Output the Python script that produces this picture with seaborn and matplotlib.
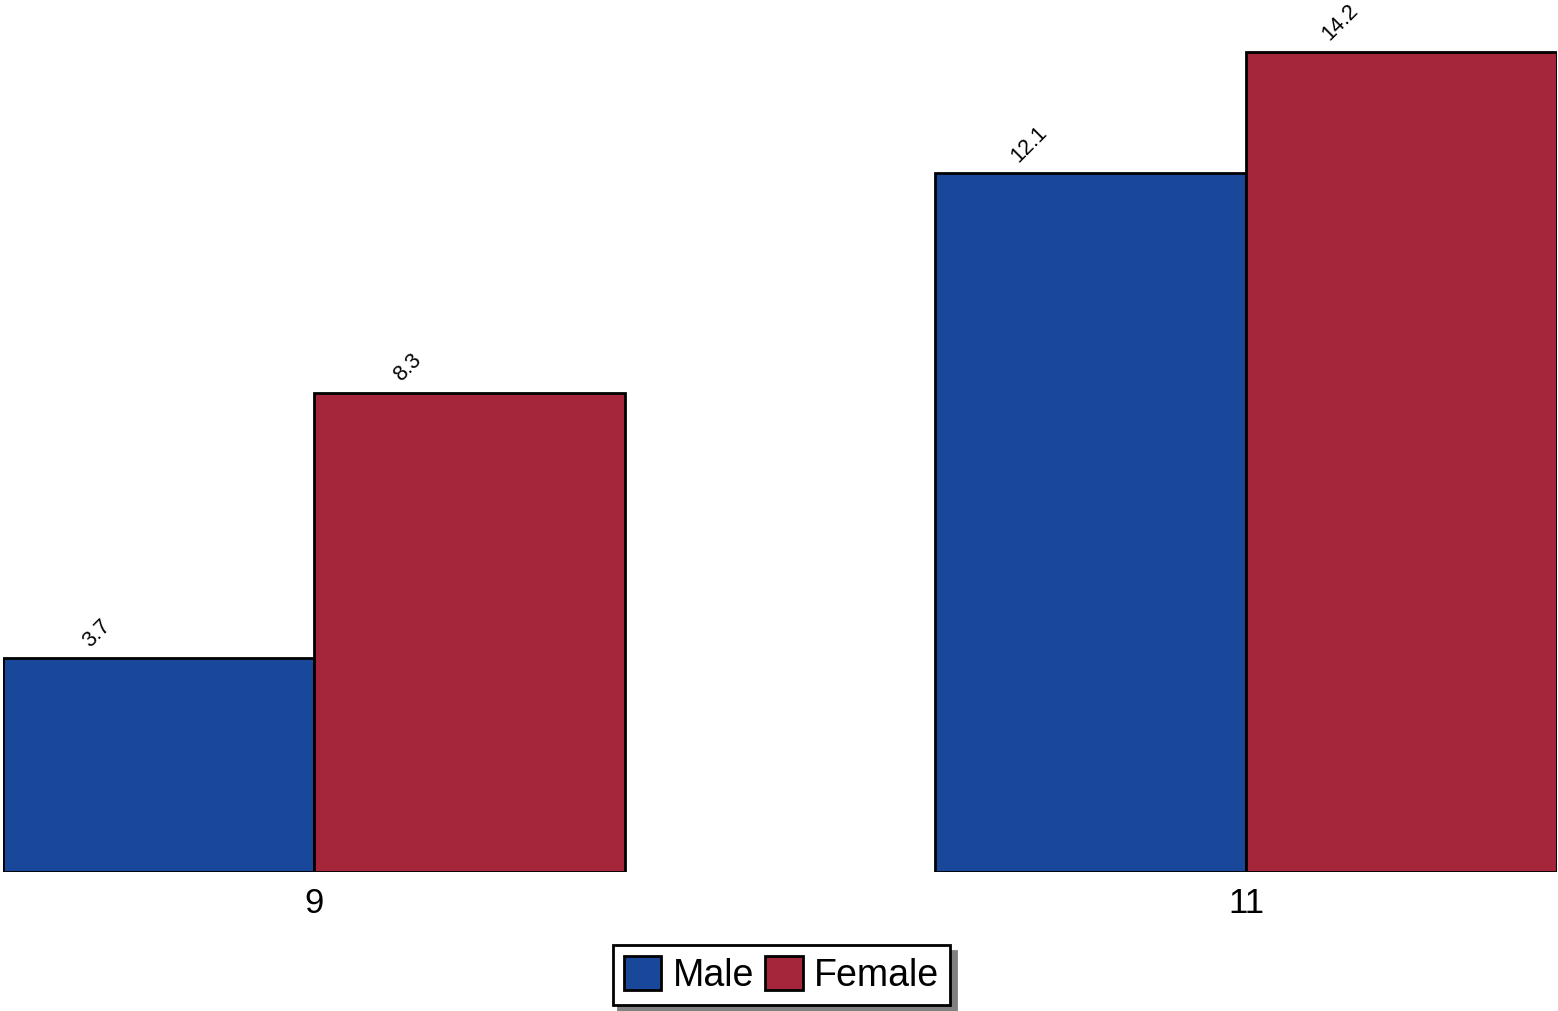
import pandas as pd
import seaborn as sns
import matplotlib.pyplot as plt
from matplotlib.patches import Patch

# data
groups = ['9', '11']
male = [3.7, 12.1]
female = [8.3, 14.2]
sexes = ['Male', 'Female']
colors = ['#19479a', '#a5263b']

df = pd.DataFrame({
    'group': groups * 2,
    'sex': ['Male'] * len(groups) + ['Female'] * len(groups),
    'value': male + female,
})

sns.set_style('white')
plt.rcParams['font.family'] = ['Liberation Sans', 'DejaVu Sans']
plt.rcParams['text.color'] = 'black'
plt.rcParams['xtick.color'] = 'black'

fig = plt.figure(figsize=(15.58, 10.11), dpi=100)
ax = fig.add_axes([3 / 1558, 139 / 1011, 1554 / 1558, 872 / 1011])

sns.barplot(data=df, x='group', y='value', hue='sex', order=groups,
            hue_order=sexes, palette=colors, width=2 / 3, saturation=1,
            edgecolor='black', linewidth=2, legend=False, ax=ax)

# value labels, rotated
for cont in ax.containers:
    for bar in cont:
        h = bar.get_height()
        ax.annotate(f'{h:.1f}', xy=(bar.get_x() + bar.get_width() / 2, h),
                    xytext=(-44, 5), textcoords='offset points',
                    ha='center', va='bottom', rotation=45, fontsize=15.5,
                    color='black')

ax.set_xlim(-1 / 3, 1 + 1 / 3)
ax.set_ylim(0, 872 / 57.75)
ax.set_xlabel('')
ax.set_ylabel('')
ax.set_yticks([])
ax.tick_params(axis='x', length=0, pad=11, labelsize=25, labelcolor='black')
for s in ax.spines.values():
    s.set_visible(False)

handles = [Patch(facecolor=c, edgecolor='black', linewidth=2) for c in colors]
leg = fig.legend(handles, sexes, loc='center', bbox_to_anchor=(0.5016, 0.0356),
                 ncol=2, fontsize=27, frameon=True, fancybox=False,
                 edgecolor='black', handlelength=1.0, handleheight=1.0,
                 handletextpad=0.3, columnspacing=0.3, borderpad=0.3,
                 borderaxespad=0,
                 shadow={'ox': 4, 'oy': -4, 'color': '#808080', 'alpha': 1})
leg.get_frame().set_linewidth(2)

fig.savefig('out.png', dpi=100)
